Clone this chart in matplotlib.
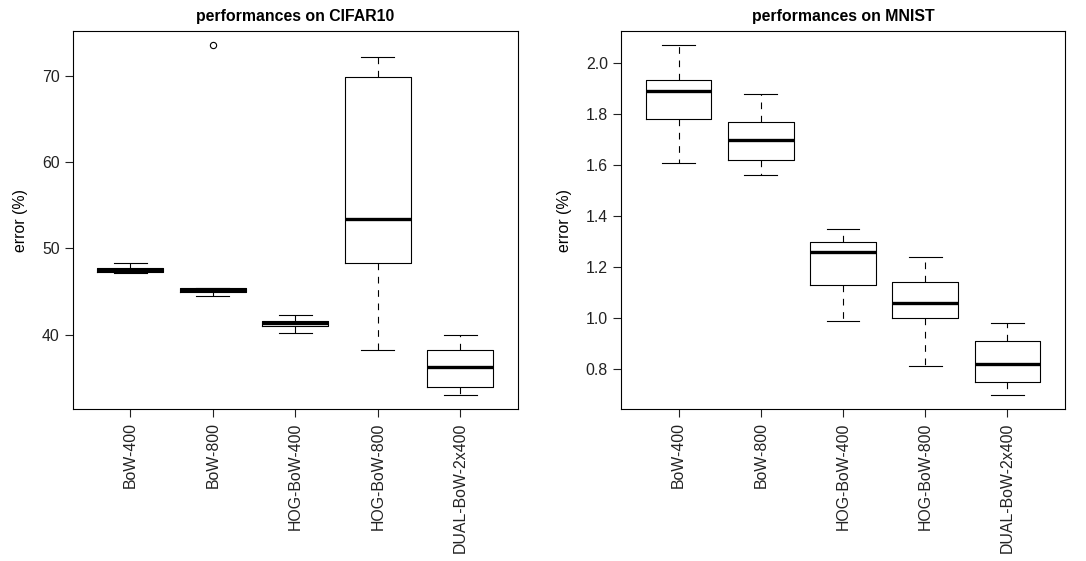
import matplotlib
matplotlib.use("Agg")
import matplotlib.pyplot as plt

plt.rcParams['font.family'] = ['Liberation Sans', 'DejaVu Sans']

methods = ["BoW-400", "BoW-800", "HOG-BoW-400", "HOG-BoW-800", "DUAL-BoW-2x400"]

# CIFAR10 error (%) : whisker low, q1, median, q3, whisker high
cifar_lo = [47.17, 44.5, 40.15, 38.26, 32.98]
cifar_q1 = [47.25, 44.9, 40.93, 48.33, 33.95]
cifar_med = [47.48, 45.2, 41.3, 53.39, 36.18]
cifar_q3 = [47.75, 45.44, 41.58, 69.9, 38.26]
cifar_hi = [48.33, 45.44, 42.23, 72.17, 40.0]
cifar_out = [[], [73.6], [], [], []]

# MNIST error (%)
mnist_lo = [1.61, 1.563, 0.991, 0.813, 0.70]
mnist_q1 = [1.781, 1.619, 1.13, 1.0, 0.749]
mnist_med = [1.892, 1.697, 1.26, 1.059, 0.822]
mnist_q3 = [1.932, 1.771, 1.298, 1.142, 0.91]
mnist_hi = [2.071, 1.878, 1.352, 1.241, 0.982]
mnist_out = [[], [], [], [], []]

cifar_ticks = [40, 50, 60, 70]
mnist_ticks = [0.8, 1.0, 1.2, 1.4, 1.6, 1.8, 2.0]

FS = 11.4


def make_stats(lo, q1, med, q3, hi, out):
    return [dict(whislo=a, q1=b, med=c, q3=d, whishi=e, fliers=f)
            for a, b, c, d, e, f in zip(lo, q1, med, q3, hi, out)]


def draw(ax, stats, ticks, fmt, title):
    ax.bxp(stats, positions=range(1, 6), widths=0.8, showfliers=True,
           boxprops=dict(color='black', lw=0.8),
           medianprops=dict(color='black', lw=2.4, solid_capstyle='butt'),
           whiskerprops=dict(color='black', lw=0.8, ls=(0, (6, 6))),
           capprops=dict(color='black', lw=0.8),
           capwidths=0.4,
           flierprops=dict(marker='o', markersize=4.5, markerfacecolor='none',
                           markeredgecolor='black', markeredgewidth=0.8))
    lows = [s['whislo'] for s in stats] + [v for s in stats for v in s['fliers']]
    highs = [s['whishi'] for s in stats] + [v for s in stats for v in s['fliers']]
    lo, hi = min(lows), max(highs)
    pad = 0.04 * (hi - lo)
    ax.set_ylim(lo - pad, hi + pad)
    ax.set_xlim(0.3, 5.7)
    ax.set_yticks(ticks)
    ax.set_yticklabels([fmt.format(t) for t in ticks])
    ax.set_xticks(range(1, 6))
    ax.set_xticklabels(methods, rotation=90)
    ax.tick_params(direction='out', length=6, width=0.8, labelsize=FS, colors='#222222')
    for sp in ax.spines.values():
        sp.set_linewidth(0.8)
    ax.set_ylabel("error (%)", fontsize=FS, labelpad=10)
    ax.set_title(title, fontsize=FS, fontweight='bold', pad=7)


fig = plt.figure(figsize=(10.86, 5.61), dpi=100)
ax1 = fig.add_axes([72.7 / 1086, 152 / 561, 445.3 / 1086, 378 / 561])
ax2 = fig.add_axes([621 / 1086, 152 / 561, 444 / 1086, 378 / 561])

draw(ax1, make_stats(cifar_lo, cifar_q1, cifar_med, cifar_q3, cifar_hi, cifar_out),
     cifar_ticks, "{:d}", "performances on CIFAR10")
draw(ax2, make_stats(mnist_lo, mnist_q1, mnist_med, mnist_q3, mnist_hi, mnist_out),
     mnist_ticks, "{:.1f}", "performances on MNIST")

fig.savefig("out.png", dpi=100)
